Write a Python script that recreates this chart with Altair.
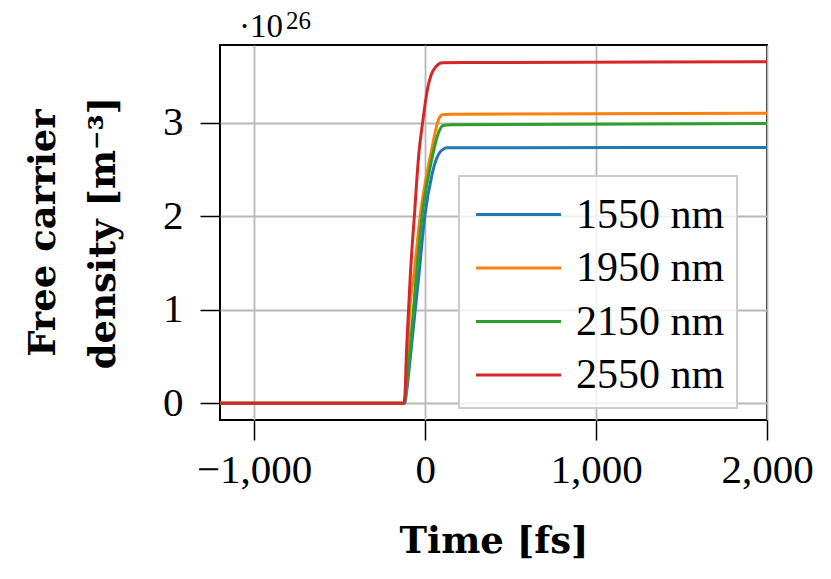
import altair as alt
import pandas as pd

# ---- data ----
wavelengths = ["1550 nm", "1950 nm", "2150 nm", "2550 nm"]
colors = ["#1f77b4", "#ff7f0e", "#2ca02c", "#d62728"]

t_1550 = [-1200, -118, -110, -72, -36, -2, 41, 60, 85, 110, 130, 300, 2000]
n_1550 = [0, 0, 0.10, 0.75, 1.38, 2.0, 2.45, 2.58, 2.68, 2.72, 2.73, 2.731, 2.735]

t_1950 = [-1200, -123, -113, -90, -64, -29, 10, 35, 50, 68, 82, 100, 150, 2000]
n_1950 = [0, 0, 0.11, 1.0, 1.4, 2.0, 2.45, 2.68, 2.82, 2.97, 3.05, 3.085, 3.09, 3.10]

t_2150 = [-1200, -123, -113, -52, -18, 27, 45, 74, 90, 105, 150, 2000]
n_2150 = [0, 0, 0.12, 1.35, 2.0, 2.5, 2.66, 2.87, 2.94, 2.97, 2.978, 2.99]

t_2550 = [-1200, -124, -118, -110, -94, -88, -63, -37, -14, 15, 35, 64, 101, 300, 2000]
n_2550 = [0, 0, 0.08, 0.5, 1.1, 1.32, 2.0, 2.66, 3.01, 3.37, 3.51, 3.60, 3.64, 3.643, 3.65]

x_ticks = [-1000, 0, 1000, 2000]
y_ticks = [0, 1, 2, 3]
x_domain = [-1200, 2000]
y_domain = [-0.18, 3.83]

exp_base = ["·10"]
exp_power = ["26"]

series = [
    (wavelengths[0], t_1550, n_1550),
    (wavelengths[1], t_1950, n_1950),
    (wavelengths[2], t_2150, n_2150),
    (wavelengths[3], t_2550, n_2550),
]
rows = []
for name, ts, ns in series:
    for t, n in zip(ts, ns):
        rows.append({"wl": name, "t": t, "n": n})
df = pd.DataFrame(rows)

REG = "Liberation Serif"
BOLD = "DejaVu Serif"

lines = alt.Chart(df).mark_line(strokeWidth=3, interpolate="monotone", clip=True).encode(
    x=alt.X(
        "t:Q",
        scale=alt.Scale(domain=x_domain, nice=False, zero=False),
        axis=alt.Axis(values=x_ticks, format=",d", title="Time [fs]",
                      labelPadding=10, titlePadding=33,
                      labelFlush=False, labelOverlap=False),
    ),
    y=alt.Y(
        "n:Q",
        scale=alt.Scale(domain=y_domain, nice=False, zero=False),
        axis=alt.Axis(values=y_ticks, format="d", title=["Free carrier", "density [m⁻³]"],
                      labelPadding=17, titlePadding=40, titleLineHeight=60,
                      labelFlush=False, labelOverlap=False),
    ),
    color=alt.Color(
        "wl:N",
        scale=alt.Scale(domain=wavelengths, range=colors),
        legend=alt.Legend(
            title=None,
            orient="none",
            legendX=239,
            legendY=131,
            symbolType="M-1.7,0H1.7",
            symbolSize=2500,
            symbolStrokeWidth=3,
            symbolOffset=21,
            labelFont=REG,
            labelFontSize=42,
            labelColor="black",
            labelOffset=31,
            labelLimit=400,
            labelExpr="datum.label + '\u00a0\u00a0\u2009'",
            padding=12,
            rowPadding=5.5,
            fillColor="rgba(255,255,255,0.8)",
            strokeColor="#cccccc",
        ),
    ),
)

base_txt = alt.Chart(pd.DataFrame({"s": exp_base})).mark_text(
    font=REG, fontSize=33, align="left", baseline="alphabetic", color="black"
).encode(x=alt.value(19), y=alt.value(-8), text="s:N")

pow_txt = alt.Chart(pd.DataFrame({"s": exp_power})).mark_text(
    font=REG, fontSize=25, align="left", baseline="alphabetic", color="black"
).encode(x=alt.value(66), y=alt.value(-16), text="s:N")

chart = alt.layer(lines, base_txt, pow_txt).properties(
    width=547,
    height=375,
    padding={"left": 212, "top": 37, "right": 56, "bottom": 150},
    autosize=alt.AutoSizeParams(type="none"),
).configure_view(
    stroke="black", strokeWidth=2
).configure_axis(
    domain=False,
    grid=True,
    gridColor="#b8b8b8",
    gridWidth=1.8,
    tickColor="black",
    tickWidth=1.5,
    tickSize=20,
    labelFont=REG,
    labelFontSize=41,
    labelColor="black",
    titleFont=BOLD,
    titleFontSize=37,
    titleFontWeight="bold",
    titleColor="black",
).configure_legend(strokeWidth=2)

chart.save("out.html", embed_options={"renderer": "svg", "actions": False})
